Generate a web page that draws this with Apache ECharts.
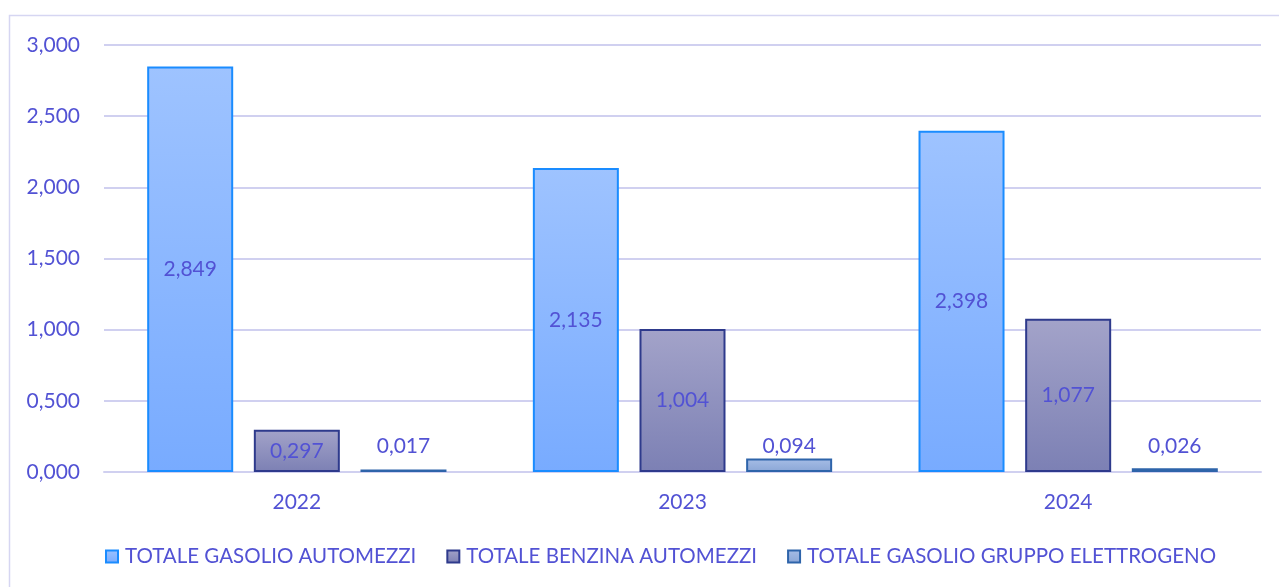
<!DOCTYPE html>
<html>
<head>
<meta charset="utf-8">
<script src="https://cdn.jsdelivr.net/npm/echarts@6/dist/echarts.min.js"></script>
<style>
html,body{margin:0;padding:0;background:#fff;}
#c{width:1279px;height:587px;}
</style>
</head>
<body>
<div id="c"></div>
<script>
const categories = ['2022', '2023', '2024'];
const seriesNames = ['TOTALE GASOLIO AUTOMEZZI', 'TOTALE BENZINA AUTOMEZZI', 'TOTALE GASOLIO GRUPPO ELETTROGENO'];
const gasolioAutomezzi = [2.849, 2.135, 2.398];
const benzinaAutomezzi = [0.297, 1.004, 1.077];
const gasolioGruppo = [0.017, 0.094, 0.026];
const yTicks = { min: 0, max: 3, interval: 0.5 };

const FONT = 'Lato, "Liberation Sans", sans-serif';
const TXT = '#5252D4';
const fmt = v => Number(v).toFixed(3).replace('.', ',');

function grad(top, bottom) {
  return new echarts.graphic.LinearGradient(0, 0, 0, 1, [
    { offset: 0, color: top }, { offset: 1, color: bottom }
  ]);
}

const chart = echarts.init(document.getElementById('c'), null, { renderer: 'canvas' });
chart.setOption({
  animation: false,
  backgroundColor: '#ffffff',
  graphic: [{
    type: 'rect',
    shape: { x: 9.5, y: 15.5, width: 1300, height: 600 },
    style: { fill: 'none', stroke: '#D6D6F2', lineWidth: 1.5 },
    silent: true
  }],
  grid: { left: 104, right: 18, top: 45, bottom: 115, containLabel: false },
  legend: {
    data: seriesNames,
    top: 541,
    left: 100,
    icon: 'rect',
    itemWidth: 12,
    itemHeight: 12,
    itemGap: 30,
    textStyle: { color: TXT, fontFamily: FONT, fontSize: 20.5, padding: [0, 0, 0, 2] }
  },
  xAxis: {
    type: 'category',
    data: categories,
    axisLine: { show: true, lineStyle: { color: '#D0D0F0', width: 2 } },
    axisTick: { show: false },
    axisLabel: { color: TXT, fontFamily: FONT, fontSize: 21, margin: 20 }
  },
  yAxis: {
    type: 'value',
    min: yTicks.min, max: yTicks.max, interval: yTicks.interval,
    axisLine: { show: false },
    axisTick: { show: false },
    splitLine: { lineStyle: { color: '#D0D0F0', width: 2 } },
    axisLabel: { color: TXT, fontFamily: FONT, fontSize: 21, margin: 24, formatter: fmt }
  },
  series: [
    {
      name: seriesNames[0], type: 'bar', data: gasolioAutomezzi,
      barWidth: '22.3%', barGap: '24%',
      itemStyle: { color: grad('#9EC3FF', '#78ABFF'), borderColor: '#1A8CFF', borderWidth: 2 },
      label: { show: true, position: 'inside', color: TXT, fontFamily: FONT, fontSize: 21, formatter: p => fmt(p.value) }
    },
    {
      name: seriesNames[1], type: 'bar', data: benzinaAutomezzi,
      barWidth: '22.3%', barGap: '24%',
      itemStyle: { color: grad('#A3A3C9', '#7C80B4'), borderColor: '#2E3A8C', borderWidth: 2 },
      label: { show: true, position: 'inside', color: TXT, fontFamily: FONT, fontSize: 21, formatter: p => fmt(p.value) }
    },
    {
      name: seriesNames[2], type: 'bar', data: gasolioGruppo,
      barWidth: '22.3%', barGap: '24%',
      itemStyle: { color: grad('#A6BDE6', '#8AA6D6'), borderColor: '#2E64AA', borderWidth: 2 },
      label: { show: true, position: 'insideBottom', distance: 15, color: TXT, fontFamily: FONT, fontSize: 21, formatter: p => fmt(p.value) }
    }
  ]
});
</script>
</body>
</html>
